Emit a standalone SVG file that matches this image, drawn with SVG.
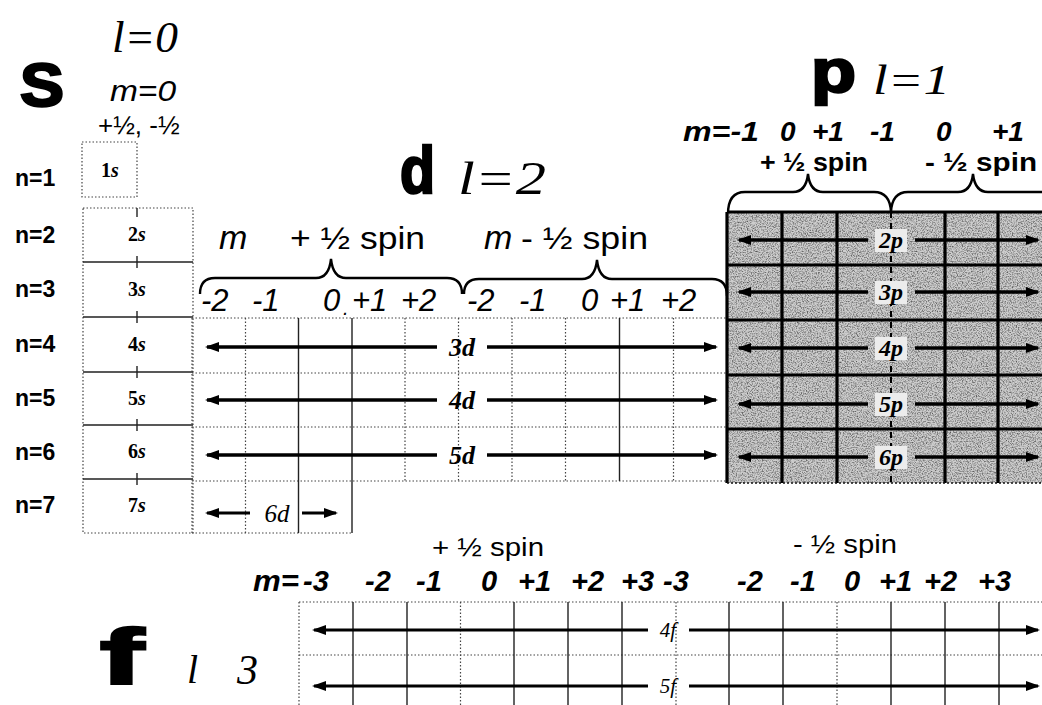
<svg xmlns="http://www.w3.org/2000/svg" width="1042" height="705" viewBox="0 0 1042 705">
<style>
.big{font-family:"Liberation Sans",Arial,sans-serif;font-weight:bold;fill:#000;stroke:#000;stroke-width:2.5}
.ell{font-family:"Liberation Serif","Times New Roman",serif;font-style:italic;fill:#000}
.hi{font-family:"Liberation Sans",Arial,sans-serif;font-style:italic;fill:#000}
.hib{font-family:"Liberation Sans",Arial,sans-serif;font-style:italic;font-weight:bold;fill:#000}
.sp{font-family:"Liberation Sans",Arial,sans-serif;fill:#000}
.n{font-family:"Liberation Sans",Arial,sans-serif;font-weight:bold;font-size:23px;fill:#000}
.orb{font-family:"Liberation Serif","Times New Roman",serif;font-weight:bold;font-size:20px;fill:#000;text-anchor:middle}
.orbd{font-family:"Liberation Serif","Times New Roman",serif;font-weight:bold;font-style:italic;font-size:26px;fill:#000;text-anchor:middle}
.orbp{font-family:"Liberation Serif","Times New Roman",serif;font-weight:bold;font-style:italic;font-size:24px;fill:#000;text-anchor:middle}
.orbl{font-family:"Liberation Serif","Times New Roman",serif;font-style:italic;font-size:21px;fill:#000;text-anchor:middle}
.orb6{font-family:"Liberation Serif","Times New Roman",serif;font-style:italic;font-size:25px;fill:#000;text-anchor:middle}
.halo{fill:#ececec}
.dot{fill:none;stroke:#444;stroke-width:1.2;stroke-dasharray:1.5 2}
.sol{fill:none;stroke:#222;stroke-width:1.4}
.thick{fill:none;stroke:#000;stroke-width:3.2}
.brace{fill:none;stroke:#000;stroke-width:2.4}
.arr{fill:none;stroke:#000;stroke-width:3.6}
.arrf{fill:none;stroke:#000;stroke-width:3}
</style>
<defs>
<marker id="ah" markerWidth="14" markerHeight="10" refX="12" refY="5" orient="auto-start-reverse" markerUnits="userSpaceOnUse">
<path d="M0,0 L14,5 L0,10 z" fill="#000"/>
</marker>
<filter id="grain" x="0" y="0" width="1" height="1">
<feTurbulence type="fractalNoise" baseFrequency="0.8" numOctaves="2" seed="7"/>
<feColorMatrix type="matrix" values="0 0 0 0 0.1  0 0 0 0 0.1  0 0 0 0 0.1  2.4 0 0 0 -1.0"/>
</filter>
</defs>
<rect width="1042" height="705" fill="#fff"/>

<g id="s-block">
<text class="big" x="20" y="106" font-size="62" textLength="44" lengthAdjust="spacingAndGlyphs">S</text>
<text class="ell" x="112" y="52" font-size="44" textLength="66" lengthAdjust="spacingAndGlyphs">l=0</text>
<text class="hi" x="110" y="101" font-size="30" textLength="66" lengthAdjust="spacingAndGlyphs">m=0</text>
<text class="sp" x="98" y="134" font-size="26">+½, -½</text>
<rect x="82" y="142" width="55" height="55" class="dot"/>
<text class="orb" x="110" y="177">1<tspan font-style="italic">s</tspan></text>
<text class="n" x="15" y="186">n=1</text>
<text class="n" x="15" y="243">n=2</text>
<text class="n" x="15" y="297">n=3</text>
<text class="n" x="15" y="352">n=4</text>
<text class="n" x="15" y="406">n=5</text>
<text class="n" x="15" y="460">n=6</text>
<text class="n" x="15" y="513">n=7</text>
<rect x="83" y="208" width="110" height="325" class="dot"/>
<path class="sol" d="M83,262 H193 M83,317 H193 M83,372 H193 M83,425 H193 M83,479 H193"/>
<path class="sol" d="M137,208 v9 M137,256 v12 M137,311 v12 M137,366 v12 M137,419 v12 M137,473 v12"/>
<text class="orb" x="137" y="241">2<tspan font-style="italic">s</tspan></text>
<text class="orb" x="137" y="296">3<tspan font-style="italic">s</tspan></text>
<text class="orb" x="137" y="351">4<tspan font-style="italic">s</tspan></text>
<text class="orb" x="137" y="405">5<tspan font-style="italic">s</tspan></text>
<text class="orb" x="137" y="458">6<tspan font-style="italic">s</tspan></text>
<text class="orb" x="137" y="512">7<tspan font-style="italic">s</tspan></text>
</g>

<g id="d-block">
<text class="big" x="400" y="193" font-size="66" textLength="35" lengthAdjust="spacingAndGlyphs">d</text>
<text class="ell" x="458" y="194" font-size="46" textLength="88" lengthAdjust="spacingAndGlyphs">l=2</text>
<text class="hi" x="219" y="249" font-size="34">m</text>
<text class="sp" x="290" y="249" font-size="31" textLength="135" lengthAdjust="spacingAndGlyphs">+ ½ spin</text>
<text class="hi" x="484" y="249" font-size="34">m</text>
<text class="sp" x="521" y="249" font-size="31" textLength="127" lengthAdjust="spacingAndGlyphs">- ½ spin</text>
<path class="brace" d="M200,294 Q200,278 215,278 L316,278 Q329,278 331,259 Q333,278 346,278 L447,278 Q462,278 462,294"/>
<path class="brace" d="M464,294 Q464,279 479,279 L582,279 Q595,279 597,260 Q599,279 612,279 L712,279 Q727,279 727,296"/>
<g class="hi" font-size="31">
<text x="201" y="311">-2</text><text x="252" y="311">-1</text><text x="323" y="311">0</text><text x="343" y="315" font-size="20">.</text><text x="352" y="311">+1</text><text x="401" y="311">+2</text>
<text x="467" y="311">-2</text><text x="519" y="311">-1</text><text x="581" y="311">0</text><text x="610" y="311">+1</text><text x="661" y="311">+2</text>
</g>
<path class="dot" d="M192,318 H727 M192,373 H727 M192,427 H727 M192,481 H727 M192,533 H353"/>
<path class="dot" d="M192,318 V533 M245.5,318 V533 M405,318 V481 M458.5,318 V481 M512,318 V481 M565.5,318 V481 M673.5,318 V481"/>
<path class="sol" d="M298.5,318 V533 M352,318 V533 M619.5,318 V481"/>
<text class="orbd" x="462" y="356">3d</text>
<text class="orbd" x="462" y="409">4d</text>
<text class="orbd" x="462" y="464">5d</text>
<text class="orb6" x="277" y="522">6d</text>
</g>

<g id="p-block">
<text class="big" x="811" y="92" font-size="62" textLength="45" lengthAdjust="spacingAndGlyphs">p</text>
<text class="ell" x="873" y="94" font-size="42" textLength="77" lengthAdjust="spacingAndGlyphs">l=1</text>
<g class="hib" font-size="28">
<text x="683" y="141" textLength="76" lengthAdjust="spacingAndGlyphs">m=-1</text><text x="780" y="141">0</text><text x="812" y="141">+1</text><text x="870" y="141">-1</text><text x="936" y="141">0</text><text x="992" y="141">+1</text>
</g>
<text class="sp" x="760" y="171" font-size="26" font-weight="bold" textLength="108" lengthAdjust="spacingAndGlyphs">+ ½ spin</text>
<text class="sp" x="925" y="171" font-size="26" font-weight="bold" textLength="112" lengthAdjust="spacingAndGlyphs">- ½ spin</text>
<path class="brace" d="M728,214 Q728,192 745,192 L793,192 Q806,192 808,174 Q810,192 823,192 L874,192 Q890,192 891,212 Q892,192 908,192 L958,192 Q971,192 973,174 Q975,192 988,192 L1042,192"/>
<rect x="727" y="212" width="320" height="271" fill="#cdcdcd"/>
<rect x="727" y="212" width="320" height="271" filter="url(#grain)"/>
<path class="thick" d="M727,212 H1042 M727,265 H1042 M727,320 H1042 M727,375 H1042 M727,429 H1042"/>
<path class="thick" d="M727,212 V483 M782,212 V483 M837,212 V483 M945,212 V483 M998,212 V483"/>
<path fill="none" stroke="#000" stroke-width="2" stroke-dasharray="6 5" d="M891,212 V483"/>
<path fill="none" stroke="#111" stroke-width="1.6" stroke-dasharray="2 2" d="M727,483 H1042"/>
<rect class="halo" x="875" y="229" width="32" height="23"/>
<rect class="halo" x="875" y="281" width="32" height="23"/>
<rect class="halo" x="875" y="337" width="32" height="23"/>
<rect class="halo" x="875" y="393" width="32" height="23"/>
<rect class="halo" x="875" y="446" width="32" height="23"/>
<text class="orbp" x="891" y="248">2p</text>
<text class="orbp" x="891" y="300">3p</text>
<text class="orbp" x="891" y="356">4p</text>
<text class="orbp" x="891" y="412">5p</text>
<text class="orbp" x="891" y="465">6p</text>
</g>

<g id="f-block">
<text class="big" x="100" y="684" font-size="78" textLength="44" lengthAdjust="spacingAndGlyphs" stroke-width="3">f</text>
<text class="ell" x="187" y="683" font-size="40">l</text>
<text class="ell" x="237" y="684" font-size="42">3</text>
<text class="sp" x="432" y="556" font-size="25" textLength="112" lengthAdjust="spacingAndGlyphs">+ ½ spin</text>
<text class="sp" x="793" y="553" font-size="25" textLength="104" lengthAdjust="spacingAndGlyphs">- ½ spin</text>
<g class="hib" font-size="29">
<text x="253" y="591" textLength="46" lengthAdjust="spacingAndGlyphs">m=</text><text x="303" y="591">-3</text><text x="365" y="591">-2</text><text x="416" y="591">-1</text><text x="481" y="591">0</text><text x="518" y="591">+1</text><text x="571" y="591">+2</text><text x="621" y="591">+3</text>
<text x="663" y="591">-3</text><text x="737" y="591">-2</text><text x="790" y="591">-1</text><text x="844" y="591">0</text><text x="879" y="591">+1</text><text x="924" y="591">+2</text><text x="978" y="591">+3</text>
</g>
<path class="dot" d="M299,602 H1042 M299,655 H1042"/>
<path class="dot" d="M299,602 V705 M460.5,602 V705 M676,602 V705 M837,602 V705"/>
<path class="sol" d="M353,602 V705 M407,602 V705 M514,602 V705 M568,602 V705 M622,602 V705 M729,602 V705 M783,602 V705 M891,602 V705 M945,602 V705 M999,602 V705"/>
<text class="orbl" x="668" y="637">4f</text>
<text class="orbl" x="668" y="693">5f</text>
</g>

<g id="connectors">
<path class="arr" marker-start="url(#ah)" d="M207,347 H437"/>
<path class="arr" marker-end="url(#ah)" d="M487,347 H716"/>
<path class="arr" marker-start="url(#ah)" d="M207,400 H437"/>
<path class="arr" marker-end="url(#ah)" d="M487,400 H716"/>
<path class="arr" marker-start="url(#ah)" d="M207,455 H437"/>
<path class="arr" marker-end="url(#ah)" d="M487,455 H716"/>
<path class="arrf" marker-start="url(#ah)" d="M207,513 H250"/>
<path class="arrf" marker-end="url(#ah)" d="M302,513 H336"/>
<path class="arr" marker-start="url(#ah)" d="M739,240 H868"/>
<path class="arr" marker-end="url(#ah)" d="M915,240 H1038"/>
<path class="arr" marker-start="url(#ah)" d="M739,292 H868"/>
<path class="arr" marker-end="url(#ah)" d="M915,292 H1038"/>
<path class="arr" marker-start="url(#ah)" d="M739,348 H868"/>
<path class="arr" marker-end="url(#ah)" d="M915,348 H1038"/>
<path class="arr" marker-start="url(#ah)" d="M739,404 H868"/>
<path class="arr" marker-end="url(#ah)" d="M915,404 H1038"/>
<path class="arr" marker-start="url(#ah)" d="M739,457 H868"/>
<path class="arr" marker-end="url(#ah)" d="M915,457 H1038"/>
<path class="arrf" marker-start="url(#ah)" d="M314,630 H648"/>
<path class="arrf" marker-end="url(#ah)" d="M689,630 H1038"/>
<path class="arrf" marker-start="url(#ah)" d="M314,686 H648"/>
<path class="arrf" marker-end="url(#ah)" d="M689,686 H1038"/>
</g>
</svg>
